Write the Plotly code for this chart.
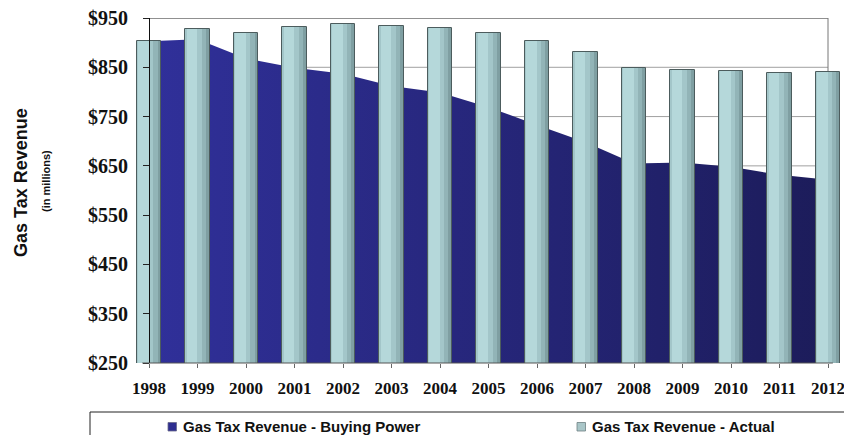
import plotly.graph_objects as go

# ---- data ----
years = [1998, 1999, 2000, 2001, 2002, 2003, 2004, 2005, 2006, 2007, 2008, 2009, 2010, 2011, 2012]
actual = [904, 928, 920, 931, 937, 934, 930, 920, 904, 881, 848, 845, 842, 838, 840]
buying_power = [903, 907, 868, 849, 837, 812, 799, 769, 733, 698, 655, 657, 648, 632, 622]
y_ticks = [250, 350, 450, 550, 650, 750, 850, 950]
y_ticktext = ["$" + str(v) for v in y_ticks]
series_names = ["Gas Tax Revenue - Buying Power", "Gas Tax Revenue - Actual"]
y_title = "Gas Tax Revenue"
y_subtitle = "(in millions)"

# ---- geometry helpers (figure pixels -> paper) ----
W, H = 844, 435
ML, MR, MT, MB = 130, 0, 18, 72
PW, PH = W - ML - MR, H - MT - MB


def px(x):
    return (x - ML) / PW


def py(y):
    return (H - MB - y) / PH


x_range = [1997.608, 2012.33]
y_range = [250, 950]

SERIF = "Liberation Serif"
SANS = "Liberation Sans"

fig = go.Figure()

# area (Buying Power) on base axes so bars are drawn on top
fig.add_trace(go.Scatter(
    x=years, y=buying_power, mode="lines", fill="tozeroy",
    line=dict(width=0, color="#24246e"),
    fillgradient=dict(type="horizontal",
                      colorscale=[[0, "#30309a"], [1, "#1c1c5a"]]),
    name=series_names[0], showlegend=False, hoverinfo="skip",
    xaxis="x", yaxis="y",
))

# bars (Actual) with a stepped horizontal shading
bw = 0.5
strips = [
    (bw, -bw / 2, "#7f9fa2"),
    (bw * 0.85, -bw / 2, "#92b4b7"),
    (bw * 0.68, -bw / 2, "#a3c6c9"),
    (bw * 0.42, -bw / 2 + 0.03, "#b5d8da"),
]
for w, off, col in strips:
    fig.add_trace(go.Bar(
        x=years, y=actual, width=w, offset=off,
        marker=dict(color=col, line=dict(width=0)),
        showlegend=False, hoverinfo="skip", xaxis="x2", yaxis="y2",
    ))
fig.add_trace(go.Bar(
    x=years, y=actual, width=bw, offset=-bw / 2,
    marker=dict(color="rgba(0,0,0,0)", line=dict(width=1, color="#4c5c5d")),
    name=series_names[1], showlegend=False, hoverinfo="skip",
    xaxis="x2", yaxis="y2",
))

shapes = []
# gridlines
for v in y_ticks[1:-1]:
    shapes.append(dict(type="line", xref="x", yref="y", x0=years[0], x1=years[-1],
                       y0=v, y1=v, line=dict(color="#a0a0a0", width=1), layer="below"))
# top border and back right wall
shapes.append(dict(type="line", xref="x", yref="y", x0=years[0], x1=years[-1],
                   y0=y_ticks[-1], y1=y_ticks[-1], line=dict(color="#222222", width=1.2), layer="below"))
shapes.append(dict(type="line", xref="x", yref="y", x0=years[-1], x1=years[-1],
                   y0=y_ticks[0], y1=y_ticks[-1], line=dict(color="#777777", width=1), layer="below"))
# baseline
shapes.append(dict(type="line", xref="x", yref="paper", x0=years[0] - 0.14, x1=years[-1] + 0.1,
                   y0=0, y1=0, line=dict(color="#555555", width=1), layer="above"))
# legend box
shapes.append(dict(type="line", xref="paper", yref="paper", x0=px(90), x1=px(850),
                   y0=py(412), y1=py(412), line=dict(color="#222222", width=1)))
shapes.append(dict(type="line", xref="paper", yref="paper", x0=px(90), x1=px(90),
                   y0=py(412), y1=py(440), line=dict(color="#222222", width=1)))
# legend swatches
shapes.append(dict(type="rect", xref="paper", yref="paper", x0=px(168), x1=px(176.5),
                   y0=py(431), y1=py(422.5), fillcolor="#2e2e90",
                   line=dict(color="#6a6a8a", width=0.8)))
shapes.append(dict(type="rect", xref="paper", yref="paper", x0=px(577), x1=px(585.5),
                   y0=py(431), y1=py(422.5), fillcolor="#a9c6c8",
                   line=dict(color="#6f8283", width=0.8)))

annotations = [
    dict(text=series_names[0], xref="paper", yref="paper", x=px(181), y=py(426.5),
         xanchor="left", yanchor="middle", showarrow=False,
         font=dict(family=SANS, size=15, color="#111111", weight="bold")),
    dict(text=series_names[1], xref="paper", yref="paper", x=px(590), y=py(426.5),
         xanchor="left", yanchor="middle", showarrow=False,
         font=dict(family=SANS, size=15, color="#111111", weight="bold")),
    dict(text=y_title, xref="paper", yref="paper", x=px(20.5), y=py(182.5),
         xanchor="center", yanchor="middle", textangle=-90, showarrow=False,
         font=dict(family=SANS, size=18, color="#111111", weight="bold")),
    dict(text=y_subtitle, xref="paper", yref="paper", x=px(45.5), y=py(181.5),
         xanchor="center", yanchor="middle", textangle=-90, showarrow=False,
         font=dict(family=SANS, size=11, color="#111111", weight="bold")),
]

fig.update_layout(
    width=W, height=H,
    margin=dict(l=ML, r=MR, t=MT, b=MB, pad=0),
    paper_bgcolor="white", plot_bgcolor="white",
    barmode="overlay", bargap=0,
    showlegend=False,
    shapes=shapes, annotations=annotations,
    xaxis=dict(range=x_range, domain=[0, 1], tickvals=years, ticktext=[str(y) for y in years],
               ticks="outside", ticklen=4, tickcolor="#666666", tickwidth=1,
               showline=False, showgrid=False, zeroline=False, ticklabelstandoff=6,
               ticklabeloverflow="allow",
               tickfont=dict(family=SERIF, size=17, color="#111111", weight="bold")),
    yaxis=dict(range=y_range, anchor="free", position=px(149), tickvals=y_ticks,
               ticktext=y_ticktext, ticks="outside", ticklen=6, tickcolor="#222222",
               showline=True, linecolor="#111111", linewidth=1,
               showgrid=False, zeroline=False, ticklabelstandoff=11,
               tickfont=dict(family=SERIF, size=20, color="#111111", weight="bold")),
    xaxis2=dict(range=x_range, overlaying="x", visible=False, domain=[0, 1]),
    yaxis2=dict(range=y_range, overlaying="y", visible=False, anchor="x2"),
)

fig.write_html(
    "out.html",
    config={"displayModeBar": False},
    post_script="document.body.style.margin='0px';document.body.style.padding='0px';"
                "document.body.style.overflow='hidden';",
)
